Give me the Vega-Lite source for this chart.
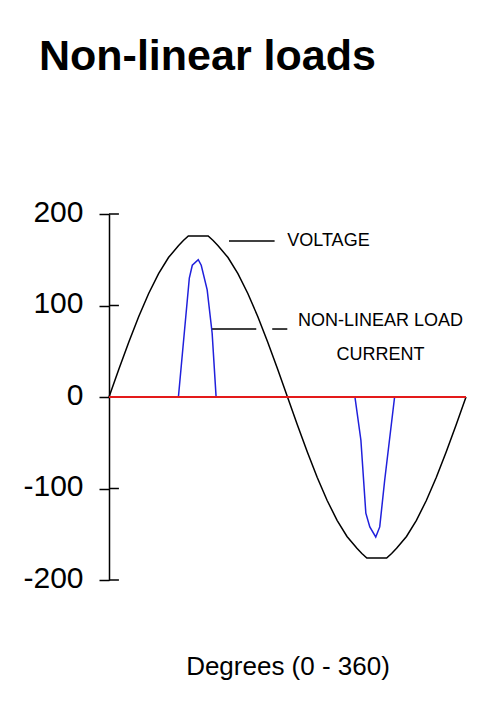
{
  "$schema": "https://vega.github.io/schema/vega-lite/v6.json",
  "width": 357,
  "height": 366,
  "autosize": {"type": "none"},
  "padding": {"left": 109, "top": 214, "right": 34, "bottom": 133},
  "background": "white",
  "config": {
    "view": {"stroke": null},
    "axisX": {
      "labels": false,
      "ticks": false,
      "domain": false,
      "grid": false,
      "titleFont": "Liberation Sans",
      "titleFontSize": 26,
      "titleFontWeight": "normal",
      "titleColor": "black",
      "titlePadding": 73
    }
  },
  "title": {
    "text": "Non-linear loads",
    "anchor": "start",
    "frame": "group",
    "font": "Liberation Sans",
    "fontSize": 43,
    "fontWeight": "bold",
    "color": "black",
    "dx": -70,
    "offset": 84,
    "baseline": "alphabetic"
  },
  "datasets": {
    "voltage": [
      {"deg": 0, "value": 0}, {"deg": 10, "value": 30.6}, {"deg": 20, "value": 60.2},
      {"deg": 30, "value": 88}, {"deg": 40, "value": 113.1}, {"deg": 50, "value": 134.8},
      {"deg": 60, "value": 152.4}, {"deg": 70, "value": 165.4}, {"deg": 75, "value": 171},
      {"deg": 80, "value": 176}, {"deg": 100, "value": 176}, {"deg": 105, "value": 171},
      {"deg": 110, "value": 165.4}, {"deg": 120, "value": 152.4}, {"deg": 130, "value": 134.8},
      {"deg": 140, "value": 113.1}, {"deg": 150, "value": 88}, {"deg": 160, "value": 60.2},
      {"deg": 170, "value": 30.6}, {"deg": 180, "value": 0}, {"deg": 190, "value": -30.6},
      {"deg": 200, "value": -60.2}, {"deg": 210, "value": -88}, {"deg": 220, "value": -113.1},
      {"deg": 230, "value": -134.8}, {"deg": 240, "value": -152.4}, {"deg": 250, "value": -165.4},
      {"deg": 255, "value": -171}, {"deg": 260, "value": -176}, {"deg": 280, "value": -176},
      {"deg": 285, "value": -171}, {"deg": 290, "value": -165.4}, {"deg": 300, "value": -152.4},
      {"deg": 310, "value": -134.8}, {"deg": 320, "value": -113.1}, {"deg": 330, "value": -88},
      {"deg": 340, "value": -60.2}, {"deg": 350, "value": -30.6}, {"deg": 360, "value": 0}
    ],
    "current": [
      {"deg": 0, "value": 0}, {"deg": 70, "value": 0}, {"deg": 81, "value": 130},
      {"deg": 84, "value": 144}, {"deg": 90, "value": 150}, {"deg": 93, "value": 144},
      {"deg": 99, "value": 117}, {"deg": 104, "value": 70}, {"deg": 108, "value": 0},
      {"deg": 248, "value": 0}, {"deg": 254, "value": -47}, {"deg": 259, "value": -127},
      {"deg": 263, "value": -142}, {"deg": 269, "value": -153}, {"deg": 273, "value": -142},
      {"deg": 278, "value": -91}, {"deg": 288, "value": 0}, {"deg": 360, "value": 0}
    ],
    "zero": [{"deg": 0, "value": 0}, {"deg": 360, "value": 0}],
    "ytickrows": [{"value": -200}, {"value": -100}, {"value": 0}, {"value": 100}, {"value": 200}],
    "leaders": [
      {"deg": 121, "deg2": 167, "value": 170.5},
      {"deg": 104, "deg2": 148.5, "value": 74.3},
      {"deg": 164.6, "deg2": 179.8, "value": 74.3}
    ],
    "labels": [
      {"deg": 221.3, "value": 170.5, "label": "VOLTAGE"},
      {"deg": 273.7, "value": 83.6, "label": "NON-LINEAR LOAD"},
      {"deg": 273.7, "value": 45.4, "label": "CURRENT"}
    ]
  },
  "encoding": {
    "y": {
      "field": "value",
      "type": "quantitative",
      "scale": {"domain": [-200, 200], "nice": false},
      "axis": {
        "title": null,
        "values": [-200, -100, 0, 100, 200],
        "labelExpr": "'' + datum.value",
        "ticks": true,
        "tickSize": 10,
        "tickWidth": 1.5,
        "tickColor": "black",
        "grid": false,
        "domainColor": "black",
        "domainWidth": 1.5,
        "labelFont": "Liberation Sans",
        "labelFontSize": 30,
        "labelColor": "black",
        "labelPadding": 16,
        "labelOffset": -2
      }
    }
  },
  "layer": [
    {
      "data": {"name": "voltage"},
      "mark": {"type": "line", "color": "black", "strokeWidth": 1.5},
      "encoding": {
        "x": {
          "field": "deg",
          "type": "quantitative",
          "scale": {"domain": [0, 360], "nice": false, "zero": false},
          "axis": {"title": "Degrees (0 - 360)"}
        }
      }
    },
    {
      "data": {"name": "ytickrows"},
      "mark": {"type": "rule", "color": "black", "strokeWidth": 1.5},
      "encoding": {"x": {"datum": 0, "type": "quantitative"}, "x2": {"datum": 10}}
    },
    {
      "data": {"name": "current"},
      "mark": {"type": "line", "color": "#2020dc", "strokeWidth": 1.5},
      "encoding": {"x": {"field": "deg", "type": "quantitative"}}
    },
    {
      "data": {"name": "zero"},
      "mark": {"type": "line", "color": "#e41a1a", "strokeWidth": 2},
      "encoding": {"x": {"field": "deg", "type": "quantitative"}}
    },
    {
      "data": {"name": "leaders"},
      "mark": {"type": "rule", "color": "black", "strokeWidth": 1.5},
      "encoding": {"x": {"field": "deg", "type": "quantitative"}, "x2": {"field": "deg2"}}
    },
    {
      "data": {"name": "labels"},
      "mark": {"type": "text", "font": "Liberation Sans", "fontSize": 18, "color": "black", "baseline": "middle", "align": "center"},
      "encoding": {"x": {"field": "deg", "type": "quantitative"}, "text": {"field": "label"}}
    }
  ]
}
